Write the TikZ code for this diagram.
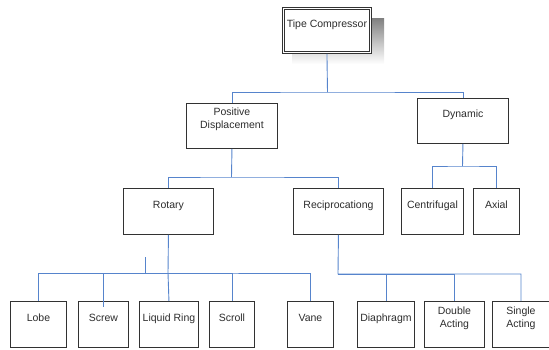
\documentclass[tikz,border=0pt]{standalone}
\usepackage{fontspec}
\setmainfont{Liberation Sans}
\definecolor{conn}{RGB}{86,132,204}
\definecolor{edge}{RGB}{50,50,50}
\definecolor{txt}{RGB}{45,45,45}
\definecolor{shade}{RGB}{200,200,200}
\begin{document}
\begin{tikzpicture}[x=1pt,y=-1pt,
  box/.style={draw=edge,line width=0.9pt,fill=white,inner sep=0pt,anchor=north west},
  lbl/.style={anchor=base,inner sep=0pt,text=txt,font=\fontsize{10.5}{13}\selectfont},
  lbltwo/.style={anchor=center,inner sep=0pt,align=center,text=txt,font=\fontsize{10.5}{13}\selectfont},
  wire/.style={draw=conn,line width=0.9pt}]
\useasboundingbox (0,0) rectangle (549,349);
% shadow + title box
\fill[shade] (292,18) rectangle (384,64);
\node[box,minimum width=89pt,minimum height=46pt] (top) at (282,7) {};
\draw[edge,line width=0.9pt] ([shift={(2.6pt,-2.6pt)}]top.north west) rectangle ([shift={(-2.6pt,2.6pt)}]top.south east);
\node[lbl] (topT) at ([yshift=-20pt]top.north) {Tipe Compressor};
% level 1
\node[box,minimum width=91pt,minimum height=45pt] (pd) at (186,103) {};
\node[lbltwo] (pdT) at ([yshift=-16.5pt]pd.north) {Positive\\Displacement};
\node[box,minimum width=91pt,minimum height=45pt] (dyn) at (417,98) {};
\node[lbl] (dynT) at ([yshift=-19pt]dyn.north) {Dynamic};
% level 2
\node[box,minimum width=90pt,minimum height=46pt] (rot) at (123,188) {};
\node[lbl] (rotT) at ([yshift=-20pt]rot.north) {Rotary};
\node[box,minimum width=90pt,minimum height=46pt] (rec) at (293,188) {};
\node[lbl] (recT) at ([yshift=-20pt]rec.north) {Reciprocationg};
\node[box,minimum width=62pt,minimum height=46pt] (cen) at (401,188) {};
\node[lbl] (cenT) at ([yshift=-20pt]cen.north) {Centrifugal};
\node[box,minimum width=46pt,minimum height=46pt] (axi) at (473,188) {};
\node[lbl] (axiT) at ([yshift=-20pt]axi.north) {Axial};
% level 3
\node[box,minimum width=56pt,minimum height=46pt] (lobe) at (10,301) {};
\node[lbl] (lobeT) at ([yshift=-20pt]lobe.north) {Lobe};
\node[box,minimum width=50pt,minimum height=46pt] (screw) at (78,301) {};
\node[lbl] (screwT) at ([yshift=-20pt]screw.north) {Screw};
\node[box,minimum width=59pt,minimum height=46pt] (liq) at (139,301) {};
\node[lbl] (liqT) at ([yshift=-20pt]liq.north) {Liquid Ring};
\node[box,minimum width=45pt,minimum height=46pt] (scr) at (209,301) {};
\node[lbl] (scrT) at ([yshift=-20pt]scr.north) {Scroll};
\node[box,minimum width=46pt,minimum height=46pt] (vane) at (287,301) {};
\node[lbl] (vaneT) at ([yshift=-20pt]vane.north) {Vane};
\node[box,minimum width=57pt,minimum height=46pt] (dia) at (357,301) {};
\node[lbl] (diaT) at ([yshift=-20pt]dia.north) {Diaphragm};
\node[box,minimum width=60pt,minimum height=46pt] (dbl) at (424,301) {};
\node[lbltwo] (dblT) at ([yshift=-17pt]dbl.north) {Double\\Acting};
\node[box,minimum width=57pt,minimum height=46pt] (sgl) at (492,301) {};
\node[lbltwo] (sglT) at ([yshift=-17pt]sgl.north) {Single\\Acting};
% junctions
\coordinate (j1) at (327.5,92);
\coordinate (j2) at (231.5,177);
\coordinate (j3) at (462.5,166);
\coordinate (j4) at (168,273);
\coordinate (j5) at (338,274);
\coordinate (stub) at (145.7,257);
% connectors
\draw[wire] (top.south) -- (j1);
\draw[wire] (pd.north) |- (j1) -| (dyn.north);
\draw[wire] (pd.south) -- (j2);
\draw[wire] (rot.north) |- (j2) -| (rec.north);
\draw[wire] (dyn.south) -- (j3);
\draw[wire] (cen.north) |- (j3) -| (axi.north);
\draw[wire] (rot.south) -- (j4) -- (liq.north);
\draw[wire] (lobe.north) |- (j4) -| (vane.north);
\draw[wire] (j4) -| ([yshift=-6pt]screw.north);
\draw[wire] (j4) -| (scr.north);
\draw[wire] (stub) |- (j4);
\draw[wire] (rec.south) -- (j5) -| (sgl.north);
\draw[wire] (j5) -| (dia.north);
\draw[wire] (j5) -| (dbl.north);
\end{tikzpicture}
\end{document}
